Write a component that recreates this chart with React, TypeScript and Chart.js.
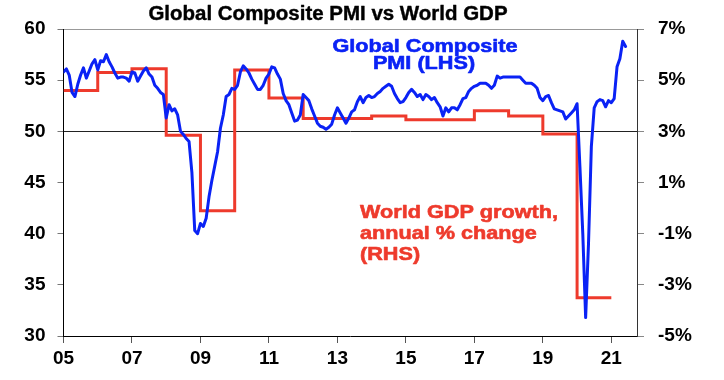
import React, { useEffect, useRef } from 'react';
import { Chart, registerables } from 'chart.js';

Chart.register(...registerables);

// ---------- DATA ----------
const chartTitle = 'Global Composite PMI vs World GDP';
const pmiStartYear = 2005; // monthly series, starting January 2005
const pmiMonthly = [
  // 2005
  55.8, 56.1, 55.5, 53.8, 53.4, 54.6, 55.5, 56.2, 55.2, 55.9, 56.6, 57.0,
  // 2006
  56.0, 56.9, 56.8, 57.5, 56.8, 56.3, 55.7, 55.2, 55.3, 55.3, 55.2, 54.9,
  // 2007
  55.8, 55.7, 54.9, 55.4, 55.9, 56.2, 55.6, 55.3, 54.5, 54.2, 53.8, 53.6,
  // 2008
  51.3, 52.6, 52.0, 52.2, 51.6, 50.0, 49.7, 49.3, 49.0, 46.0, 40.3, 40.0,
  // 2009
  41.0, 40.7, 41.5, 43.6, 45.2, 46.6, 48.0, 50.3, 51.6, 53.4, 53.6, 54.2,
  // 2010
  54.1, 54.5, 55.8, 56.4, 56.1, 55.7, 55.1, 54.6, 54.1, 54.1, 54.5, 55.2,
  // 2011
  55.6, 56.3, 56.2, 55.6, 55.1, 53.7, 53.0, 52.6, 51.8, 51.0, 51.1, 51.6,
  // 2012
  53.6, 53.3, 53.0, 52.2, 51.5, 50.8, 50.5, 50.4, 50.2, 50.4, 50.7, 51.6,
  // 2013
  52.3, 51.8, 51.3, 50.8, 51.3, 51.9, 52.1, 52.9, 53.4, 52.8, 53.3, 53.5,
  // 2014
  53.3, 53.4, 53.7, 53.9, 54.2, 54.4, 54.6, 54.4, 53.7, 53.2, 52.8, 52.9,
  // 2015
  53.3, 53.8, 54.1, 53.8, 53.4, 53.6, 53.1, 53.6, 53.4, 53.1, 53.3, 52.8,
  // 2016
  52.4, 51.5, 52.3, 51.9, 52.3, 52.3, 52.1, 52.6, 53.2, 53.3, 53.9, 54.2,
  // 2017
  54.4, 54.5, 54.7, 54.7, 54.7, 54.5, 54.2, 54.5, 55.4, 55.2, 55.3, 55.3,
  // 2018
  55.3, 55.3, 55.3, 55.3, 55.3, 55.0, 54.7, 54.7, 54.7, 54.5, 54.2, 53.3,
  // 2019
  53.0, 53.4, 53.5, 52.8, 52.2, 52.1, 52.0, 51.9, 51.2, 51.5, 51.8, 52.1,
  // 2020
  52.7, 46.5, 40.0, 31.8, 39.0, 48.5, 52.3, 52.9, 53.1, 53.0, 52.4, 53.0,
  // 2021
  52.8, 53.2, 56.3, 57.1, 58.8, 58.3,
];

// annual world GDP growth, % (last point repeats 2020 to close the step)
const gdpYears = [2005, 2006, 2007, 2008, 2009, 2010, 2011, 2012, 2013, 2014, 2015, 2016, 2017, 2018, 2019, 2020, 2021];
const gdpGrowth = [4.6, 5.3, 5.45, 2.85, -0.1, 5.4, 4.3, 3.5, 3.5, 3.6, 3.45, 3.45, 3.8, 3.6, 2.9, -3.5, -3.5];

const xTickYears = [2005, 2007, 2009, 2011, 2013, 2015, 2017, 2019, 2021];
const xTickLabels = ['05', '07', '09', '11', '13', '15', '17', '19', '21'];

const pmiLabelLines = ['Global Composite', 'PMI (LHS)'];
const gdpLabelLines = ['World GDP growth,', 'annual % change', '(RHS)'];

// ---------- STYLE ----------
const FONT = "'Liberation Sans', Arial, Helvetica, sans-serif";
const BLUE = '#0A22F5';
const RED = '#EE3A2C';

function drawText(
  ctx: CanvasRenderingContext2D,
  text: string,
  x: number,
  y: number,
  size: number,
  color: string,
  sx: number,
  align: CanvasTextAlign,
  stroke: number
) {
  ctx.save();
  ctx.font = `bold ${size}px ${FONT}`;
  ctx.fillStyle = color;
  ctx.strokeStyle = color;
  ctx.lineJoin = 'round';
  ctx.textBaseline = 'alphabetic';
  ctx.textAlign = align;
  ctx.translate(x, y);
  ctx.scale(sx, 1);
  ctx.fillText(text, 0, 0);
  if (stroke > 0) {
    ctx.lineWidth = stroke;
    ctx.strokeText(text, 0, 0);
  }
  ctx.restore();
}

const textPlugin = {
  id: 'textOverlay',
  afterDraw(chart: any) {
    const ctx = chart.ctx as CanvasRenderingContext2D;
    drawText(ctx, chartTitle, 328, 20, 19.5, '#000', 1.05, 'center', 0.4);
    drawText(ctx, pmiLabelLines[0], 425, 51.5, 18.5, BLUE, 1.17, 'center', 0.6);
    drawText(ctx, pmiLabelLines[1], 424, 68.5, 18.5, BLUE, 1.17, 'center', 0.6);
    gdpLabelLines.forEach((line, i) => {
      drawText(ctx, line, 360, 218 + i * 21.2, 18.5, RED, 1.17, 'left', 0.6);
    });
  },
};

export default function App() {
  const canvasRef = useRef<HTMLCanvasElement | null>(null);

  useEffect(() => {
    const canvas = canvasRef.current;
    if (!canvas) return;

    const pmiPoints = pmiMonthly.map((v, i) => ({ x: pmiStartYear + i / 12, y: v }));
    const gdpPoints = gdpYears.map((yr, i) => ({ x: yr, y: gdpGrowth[i] }));
    const tickFont = { family: FONT, size: 19, weight: 'bold' as const };

    const chart = new Chart(canvas, {
      type: 'line',
      data: {
        datasets: [
          {
            label: 'Global Composite PMI (LHS)',
            data: pmiPoints,
            yAxisID: 'y',
            borderColor: BLUE,
            borderWidth: 3,
            pointRadius: 0,
            tension: 0,
            borderJoinStyle: 'round',
            borderCapStyle: 'round',
            fill: false,
          },
          {
            label: 'World GDP growth, annual % change (RHS)',
            data: gdpPoints,
            yAxisID: 'y2',
            borderColor: RED,
            borderWidth: 3,
            pointRadius: 0,
            stepped: true,
            fill: false,
          },
        ],
      },
      options: {
        animation: false,
        responsive: false,
        parsing: true,
        layout: { padding: { top: 29, left: 0, right: 0, bottom: 0 } },
        plugins: {
          legend: { display: false },
          tooltip: { enabled: false },
          title: { display: false },
        },
        scales: {
          x: {
            type: 'linear',
            position: 'bottom',
            min: 2005,
            max: 2021.75,
            afterBuildTicks: (s: any) => {
              s.ticks = xTickYears.map((v) => ({ value: v }));
            },
            afterFit: (s: any) => {
              s.height = 44;
            },
            ticks: {
              callback: (v: any) => xTickLabels[xTickYears.indexOf(Number(v))] ?? '',
              font: tickFont,
              color: '#000',
              padding: 4,
              maxRotation: 0,
              autoSkip: false,
            },
            grid: { drawOnChartArea: false, tickLength: 7, tickColor: '#555' },
            border: { color: '#000', width: 1 },
          },
          y: {
            position: 'left',
            min: 30,
            max: 60,
            afterFit: (s: any) => {
              s.width = 63.5;
            },
            ticks: { stepSize: 5, font: tickFont, color: '#000', padding: 12 },
            grid: {
              color: (c: any) =>
                c.tick && c.tick.value === 50 ? '#222' : c.tick && c.tick.value === 60 ? '#999' : 'rgba(0,0,0,0)',
              lineWidth: 1,
              tickColor: '#777',
              tickLength: 6,
            },
            border: { color: '#000', width: 1 },
          },
          y2: {
            position: 'right',
            min: -5,
            max: 7,
            afterFit: (s: any) => {
              s.width = 87;
            },
            ticks: {
              stepSize: 2,
              callback: (v: any) => `${v}%`,
              font: tickFont,
              color: '#000',
              padding: 14,
            },
            grid: { drawOnChartArea: false, tickLength: 7, tickColor: '#888' },
            border: { color: '#333', width: 1 },
          },
        },
      },
      plugins: [textPlugin],
    } as any);

    return () => chart.destroy();
  }, []);

  return (
    <div style={{ position: 'fixed', left: 0, top: 0, width: 724, height: 380, background: '#fff' }}>
      <canvas ref={canvasRef} width={724} height={380} style={{ display: 'block' }} />
    </div>
  );
}
